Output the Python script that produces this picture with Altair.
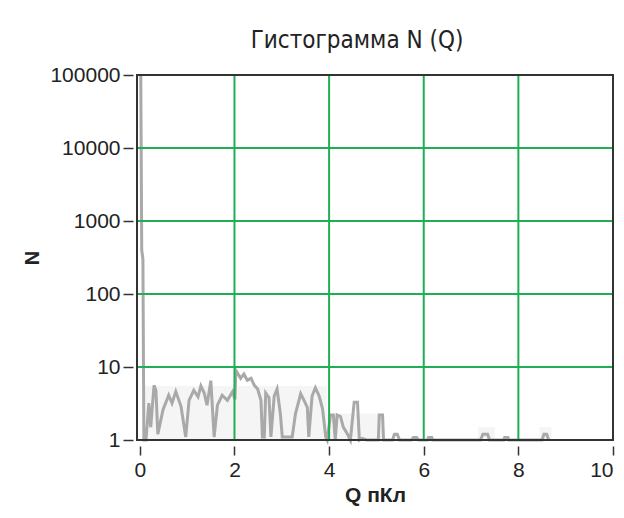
import altair as alt
import pandas as pd

# Trace of the histogram N(Q)
q_vals = [0.02, 0.04, 0.065, 0.085, 0.13, 0.19, 0.23, 0.30, 0.34, 0.38, 0.49, 0.61, 0.68, 0.76,
          0.87, 0.97, 1.04, 1.14, 1.23, 1.29, 1.36, 1.42, 1.50, 1.57, 1.64, 1.74, 1.85, 1.96,
          2.01, 2.03, 2.13, 2.20, 2.27, 2.35, 2.42, 2.49, 2.56, 2.59, 2.63, 2.66, 2.73, 2.77,
          2.84, 2.90, 2.97, 3.01, 3.22, 3.29, 3.40, 3.47, 3.54, 3.57, 3.64, 3.71, 3.79, 3.86,
          3.93, 3.96, 4.03, 4.09, 4.13, 4.17, 4.24, 4.30, 4.39, 4.45, 4.53, 4.60, 4.64, 4.70,
          4.79, 5.04, 5.06, 5.13, 5.15, 5.34, 5.38, 5.44, 5.49, 5.74, 5.78, 5.85, 5.89, 6.08,
          6.10, 6.17, 6.19, 7.20, 7.25, 7.35, 7.39, 7.69, 7.71, 7.78, 7.80, 8.50, 8.54, 8.60, 8.64]
n_vals = [100000, 400, 300, 1, 1, 3.2, 1.5, 5.6, 4.8, 1.2, 2.6, 4.1, 3.2, 4.6,
          2.9, 1.1, 3.5, 4.8, 3.9, 5.5, 4.4, 3.0, 6.5, 1.1, 3.0, 4.1, 3.5, 4.6,
          3.6, 9.0, 7.0, 8.0, 6.6, 7.0, 5.6, 5.0, 3.5, 1.1, 1.1, 4.4, 3.8, 1.1,
          4.0, 5.0, 2.3, 1.1, 1.1, 2.3, 4.3, 3.5, 2.8, 1.1, 4.0, 5.2, 4.0, 2.7,
          1.1, 1.0, 2.2, 2.2, 1.0, 2.2, 2.1, 1.5, 1.2, 1.0, 3.3, 3.3, 1.0, 1.05,
          1.0, 1.0, 2.2, 2.2, 1.0, 1.0, 1.2, 1.2, 1.0, 1.0, 1.08, 1.08, 1.0, 1.0,
          1.08, 1.08, 1.0, 1.0, 1.2, 1.2, 1.0, 1.0, 1.08, 1.08, 1.0, 1.0, 1.2, 1.2, 1.0]

# Faint background envelope
env_q = [0.1, 3.95, 3.95, 5.15, 7.15, 7.5, 8.45, 8.7]
env_n = [5.5, 5.5, 2.3, 2.3, 1.5, 1.5, 1.5, 1.5]
env_seg = ["a", "a", "a", "a", "b", "b", "c", "c"]

x_ticks = [0, 2, 4, 6, 8, 10]
y_ticks = [1, 10, 100, 1000, 10000, 100000]
grid_q = [2, 4, 6, 8]
grid_n = [10, 100, 1000, 10000]

W, H = 476, 365
FONT = "Liberation Sans"

trace = pd.DataFrame({"Q": q_vals, "N": n_vals})
env = pd.DataFrame({"Q": env_q, "N": env_n, "seg": env_seg, "base": [1] * len(env_q)})
gq = pd.DataFrame({"Q": grid_q})
gn = pd.DataFrame({"N": grid_n})

xscale = alt.Scale(domain=[-0.06, 10], nice=False)
yscale = alt.Scale(type="log", domain=[1, 100000], nice=False)

xaxis = alt.Axis(values=x_ticks, title="Q пКл", grid=False, domain=False, offset=6,
                 tickSize=9, tickWidth=1.5, tickColor="#333", labelFont=FONT,
                 labelFontSize=21, labelColor="#222", labelPadding=4, labelFlush=1,
                 titleFont=FONT, titleFontSize=21, titleFontWeight="bold", titleColor="#222",
                 titlePadding=4)
yaxis = alt.Axis(values=y_ticks, format="d", title="N", grid=False, domain=False, offset=4,
                 tickSize=10, tickWidth=1.5, tickColor="#333", labelFont=FONT,
                 labelFontSize=21, labelColor="#222", labelPadding=3, labelFlush=False,
                 titleFont=FONT, titleFontSize=20, titleFontWeight="bold", titleColor="#222",
                 titlePadding=7)

area = alt.Chart(env).mark_area(color="#f5f5f5", interpolate="linear").encode(
    x=alt.X("Q:Q", scale=xscale, axis=xaxis),
    y=alt.Y("N:Q", scale=yscale, axis=yaxis),
    y2="base:Q",
    detail="seg:N",
)

line = alt.Chart(trace).mark_line(color="#a9a9a9", strokeWidth=3).encode(
    x=alt.X("Q:Q", scale=xscale),
    y=alt.Y("N:Q", scale=yscale),
)

vgrid = alt.Chart(gq).mark_rule(color="#1fae54", strokeWidth=2).encode(
    x=alt.X("Q:Q", scale=xscale)
)
hgrid = alt.Chart(gn).mark_rule(color="#1fae54", strokeWidth=2).encode(
    y=alt.Y("N:Q", scale=yscale)
)

frame = alt.Chart(pd.DataFrame({"k": [0]})).mark_rect(
    fillOpacity=0, stroke="#333", strokeWidth=2
).encode(x=alt.value(0), x2=alt.value(W), y=alt.value(0), y2=alt.value(H))

chart = alt.layer(area, line, vgrid, hgrid, frame).properties(
    width=W, height=H,
    title=alt.TitleParams("Гистограмма N (Q)", font="Liberation Sans Narrow, DejaVu Sans Condensed, Roboto",
                          fontSize=24, fontWeight="normal", color="#222", offset=11, dx=-18,
                          anchor="middle"),
    autosize=alt.AutoSizeParams(type="none"),
    padding={"left": 129, "top": 67, "right": 3, "bottom": 68},
).configure_view(stroke=None)

chart.save("out.html", embed_options={"renderer": "svg", "actions": False})
